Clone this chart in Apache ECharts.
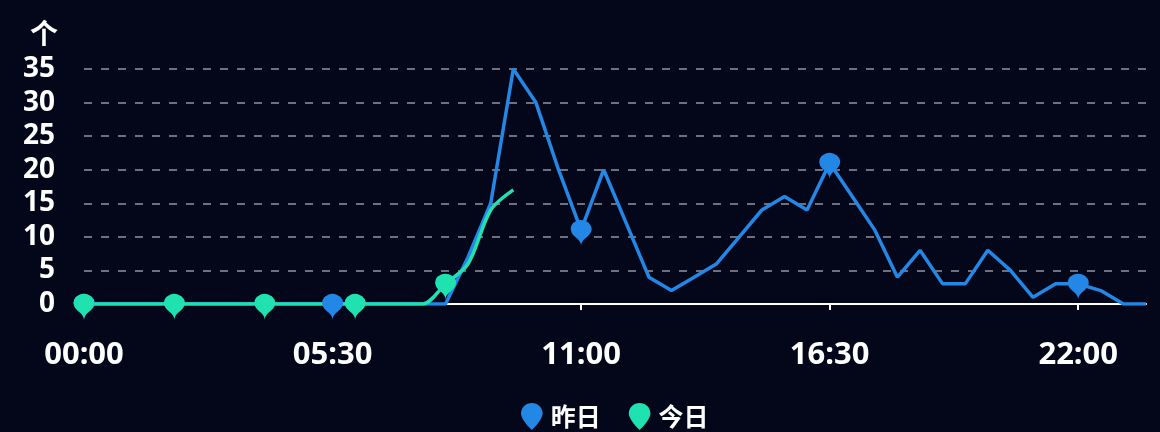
<!DOCTYPE html>
<html>
<head>
<meta charset="utf-8">
<script src="https://cdn.jsdelivr.net/npm/echarts@6/dist/echarts.min.js"></script>
<style>
html,body{margin:0;padding:0;background:#04061a;}
#c{width:1160px;height:432px;}
</style>
</head>
<body>
<div id="c"></div>
<script>
// 48 half-hour slots
const categories = ["00:00","00:30","01:00","01:30","02:00","02:30","03:00","03:30","04:00","04:30","05:00","05:30","06:00","06:30","07:00","07:30","08:00","08:30","09:00","09:30","10:00","10:30","11:00","11:30","12:00","12:30","13:00","13:30","14:00","14:30","15:00","15:30","16:00","16:30","17:00","17:30","18:00","18:30","19:00","19:30","20:00","20:30","21:00","21:30","22:00","22:30","23:00","23:30"];
const yesterday = [0,0,0,0,0,0,0,0,0,0,0,0,0,0,0,0,0,7,15,35,30,20,11,20,12,4,2,4,6,10,14,16,14,21,16,11,4,8,3,3,8,5,1,3,3,2,0,0];
const today = [0,0,0,0,0,0,0,0,0,0,0,0,0,0,0,0,3,6,14,17];
const seriesNames = ["昨日","今日"];
const yAxisName = "个";

const chart = echarts.init(document.getElementById('c'));
const blue = '#2387e6';
const green = '#1fe2b0';
const dropIcon = 'path://M12,0 C5.4,0 0,5.1 0,11.4 C0,19 12,30 12,30 C12,30 24,19 24,11.4 C24,5.1 18.6,0 12,0 Z';
chart.setOption({
  backgroundColor: '#04061a',
  grid: {left: 84, right: 14, top: 69, bottom: 128},
  legend: {
    bottom: 2, left: 516, padding: [0, 5], icon: dropIcon, itemWidth: 24, itemHeight: 27, itemGap: 28,
    textStyle: {color: '#fff', fontSize: 25, fontWeight: 'bold', fontFamily: 'Noto Sans CJK SC, sans-serif', padding: [0, 0, 0, 2]},
    data: seriesNames
  },
  xAxis: {
    type: 'category', data: categories, boundaryGap: false,
    axisLine: {lineStyle: {color: '#ffffff', width: 2}},
    axisTick: {show: true, interval: 10, length: 6, lineStyle: {color: '#ffffff', width: 2}},
    axisLabel: {interval: 10, color: '#fff', fontSize: 31, fontWeight: 'bold', margin: 36, fontFamily: 'Noto Sans, sans-serif'},
    splitLine: {show: false}
  },
  yAxis: {
    type: 'value', min: 0, max: 35, interval: 5,
    name: yAxisName, nameGap: 22,
    nameTextStyle: {color: '#fff', fontSize: 28, fontWeight: 'bold', align: 'right', padding: [0, 26, 0, 0], fontFamily: 'Noto Sans CJK SC, sans-serif'},
    axisLine: {show: false}, axisTick: {show: false},
    axisLabel: {color: '#fff', fontSize: 28, fontWeight: 'bold', margin: 29, fontFamily: 'Noto Sans, sans-serif'},
    splitLine: {show: true, lineStyle: {color: 'rgba(200,200,210,0.55)', type: [8, 9], width: 2}}
  },
  series: [
    {
      name: seriesNames[0], type: 'line', data: yesterday,
      showAllSymbol: true, symbol: 'pin', symbolOffset: [0, 16],
      symbolSize: (v, p) => p.dataIndex % 11 === 0 ? [35, 30] : 0,
      itemStyle: {color: blue}, lineStyle: {color: blue, width: 3.5}
    },
    {
      name: seriesNames[1], type: 'line', data: today, smooth: 0.3,
      showAllSymbol: true, symbol: 'pin', symbolOffset: [0, 16],
      symbolSize: (v, p) => p.dataIndex % 4 === 0 ? [35, 30] : 0,
      itemStyle: {color: green}, lineStyle: {color: green, width: 3.5}
    }
  ]
});
</script>
</body>
</html>
